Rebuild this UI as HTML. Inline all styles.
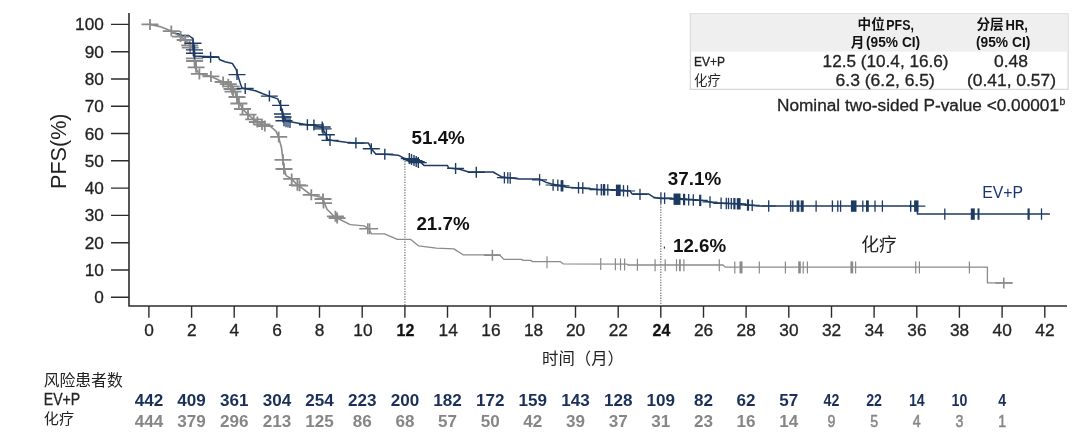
<!DOCTYPE html>
<html lang="zh"><head><meta charset="utf-8"><title>PFS Kaplan-Meier</title>
<style>html,body{margin:0;padding:0;background:#fff}body{width:1080px;height:438px;overflow:hidden}svg{display:block}text{font-family:"Liberation Sans",sans-serif}text.cjk{font-family:"Liberation Sans","Noto Sans CJK SC",sans-serif}.r text,text.r{stroke:#222;stroke-width:.3px;paint-order:stroke}svg{transform:translateZ(0);will-change:transform}</style></head><body>
<svg width="1080" height="438" viewBox="0 0 1080 438">
<rect width="1080" height="438" fill="#fff"/>
<g stroke="#2c2c2c" stroke-width="1.6" fill="none">
<path d="M129 13V306H1067"/>
</g>
<g stroke="#2c2c2c" stroke-width="1.4" fill="none"><path d="
M111 297.2H129M111 270.0H129M111 242.7H129M111 215.4H129M111 188.1H129M111 160.8H129M111 133.5H129M111 106.3H129M111 79.0H129M111 51.7H129M111 24.4H129M148.9 306V317.8M191.6 306V317.8M234.2 306V317.8M276.9 306V317.8M319.5 306V317.8M362.2 306V317.8M404.9 306V317.8M447.5 306V317.8M490.2 306V317.8M532.8 306V317.8M575.5 306V317.8M618.2 306V317.8M660.8 306V317.8M703.5 306V317.8M746.1 306V317.8M788.8 306V317.8M831.5 306V317.8M874.1 306V317.8M916.8 306V317.8M959.4 306V317.8M1002.1 306V317.8M1044.8 306V317.8"/></g>
<g class="r" font-size="17.2" fill="#222" text-anchor="end">
<text x="103.8" y="303.2">0</text>
<text x="103.8" y="276.0">10</text>
<text x="103.8" y="248.7">20</text>
<text x="103.8" y="221.4">30</text>
<text x="103.8" y="194.1">40</text>
<text x="103.8" y="166.8">50</text>
<text x="103.8" y="139.5">60</text>
<text x="103.8" y="112.3">70</text>
<text x="103.8" y="85.0">80</text>
<text x="103.8" y="57.7">90</text>
<text x="103.8" y="30.4">100</text>
</g>
<g class="r" font-size="17.3" fill="#222" text-anchor="middle">
<text x="149.0" y="335.9">0</text>
<text x="191.7" y="335.9">2</text>
<text x="234.3" y="335.9">4</text>
<text x="277.0" y="335.9">6</text>
<text x="319.6" y="335.9">8</text>
<text x="362.9" y="335.9">10</text>
<text x="405.5" y="335.8" font-weight="bold" fill="#111" stroke="none" textLength="17.8" lengthAdjust="spacingAndGlyphs">12</text>
<text x="448.2" y="335.9">14</text>
<text x="490.9" y="335.9">16</text>
<text x="533.5" y="335.9">18</text>
<text x="575.6" y="335.9">20</text>
<text x="618.3" y="335.9">22</text>
<text x="661.4" y="335.8" font-weight="bold" fill="#111" stroke="none" textLength="17.8" lengthAdjust="spacingAndGlyphs">24</text>
<text x="703.6" y="335.9">26</text>
<text x="746.2" y="335.9">28</text>
<text x="788.9" y="335.9">30</text>
<text x="831.6" y="335.9">32</text>
<text x="874.2" y="335.9">34</text>
<text x="916.9" y="335.9">36</text>
<text x="959.5" y="335.9">38</text>
<text x="1002.2" y="335.9">40</text>
<text x="1044.9" y="335.9">42</text>
</g>
<text transform="translate(66.2 151.2) rotate(-90)" font-size="21.6" fill="#222" text-anchor="middle" textLength="75.5" lengthAdjust="spacingAndGlyphs">PFS(%)</text>
<g stroke="#7d7d7d" stroke-width="1.3" stroke-dasharray="1.3 1.3" fill="none">
<path d="M404.9 161V305M660.8 204V305"/></g>
<rect x="663.8" y="246.6" width="1.2" height="2" fill="#333"/>
<path stroke="#1d3a63" fill="none" stroke-width="1.4" d="M172.3 32.9L178.0 33.8L181.8 35.2L188.7 35.4L192.4 38.2L193.3 40.5"/>
<g stroke="#8a8a8a" fill="none" stroke-linejoin="round">
<path stroke-width="1.6" d="M150.0 24.4L160.0 26.6L170.6 30.8L171.3 31.1L176.0 34.0L180.6 36.6L185.2 40.0L190.6 45.0L194.6 52.0L194.8 67.3L199.3 73.9L210.9 76.4L223.1 82.0L228.3 84.2L234.3 88.7L236.1 97.0L239.8 103.5L242.6 109.0L248.1 114.6L253.7 119.3L257.4 122.0L262.0 123.9L264.8 124.8L270.4 126.5L276.0 131.1L278.7 137.6L281.5 147.8L283.0 159.8L284.3 169.0L286.1 175.6L291.7 178.9L296.3 183.9L299.0 185.7L303.7 189.4L311.1 195.0L322.2 197.5L327.0 209.3L334.4 216.7L350.2 224.6"/>
<path stroke-width="1.3" d="M350.2 224.6L364.1 225.9L368.7 228.7L371.5 233.9L384.4 233.9L397.4 239.3L410.4 239.3L418.7 245.9L436.3 248.1L453.9 248.9L463.1 254.8L499.3 254.8L503.9 259.4L521.5 259.4L523.3 260.4L530.7 260.4L532.6 261.7L560.4 261.7L563.1 263.8L627.0 264.2L628.0 265.0L723.0 265.0L725.4 267.2L987.4 267.2L987.4 282.9L1012.9 282.9"/>
<path stroke-width="1.8" d="M141.5 24.4h17.0M150.0 18.9v11.0M162.8 31.1h17.0M171.3 25.6v11.0M172.1 36.6h17.0M180.6 31.1v11.0M176.7 40.0h17.0M185.2 34.5v11.0M181.2 45.4h17.0M189.7 39.9v11.0M181.7 47.6h17.0M190.2 42.1v11.0M186.0 58.4h17.0M194.5 52.9v11.0M186.1 61.0h17.0M194.6 55.5v11.0M187.6 67.3h17.0M196.1 61.8v11.0M190.9 73.9h17.0M199.4 68.4v11.0M202.4 76.4h17.0M210.9 70.9v11.0M214.6 82.0h17.0M223.1 76.5v11.0M219.8 84.2h17.0M228.3 78.7v11.0M222.5 86.4h17.0M231.0 80.9v11.0M223.5 89.0h17.0M232.0 83.5v11.0M224.5 91.6h17.0M233.0 86.1v11.0M228.5 97.0h17.0M237.0 91.5v11.0M230.4 103.5h17.0M238.9 98.0v11.0M234.0 109.0h17.0M242.5 103.5v11.0M239.5 114.6h17.0M248.0 109.1v11.0M245.2 119.3h17.0M253.7 113.8v11.0M248.9 122.0h17.0M257.4 116.5v11.0M253.5 124.5h17.0M262.0 119.0v11.0M256.3 126.0h17.0M264.8 120.5v11.0M270.2 136.9h17.0M278.7 131.4v11.0M274.5 159.8h17.0M283.0 154.3v11.0M275.5 169.0h17.0M284.0 163.5v11.0M283.2 178.9h17.0M291.7 173.4v11.0M288.9 185.2h17.0M297.4 179.7v11.0M291.1 185.7h17.0M299.6 180.2v11.0M302.8 194.8h17.0M311.3 189.3v11.0M314.5 199.0h17.0M323.0 193.5v11.0M315.0 203.1h17.0M323.5 197.6v11.0M326.9 216.3h17.0M335.4 210.8v11.0M328.7 218.1h17.0M337.2 212.6v11.0"/>
<path stroke-width="1.5" d="M359.3 228.7h17.0M367.8 223.2v11.0M361.1 228.7h17.0M369.6 223.2v11.0M483.9 255.3h17.0M492.4 249.8v11.0M995.3 283.0h17.0M1003.8 277.5v11.0"/>
<path stroke-width="1.2" d="M547.0 256.2v12"/>
<path stroke-width="1.2" d="M600.7 258.0v12"/>
<path stroke-width="1.2" d="M615.4 258.2v12"/>
<path stroke-width="1.2" d="M620.5 258.4v12"/>
<path stroke-width="1.2" d="M624.6 258.4v12"/>
<path stroke-width="1.2" d="M637.4 258.7v12"/>
<path stroke-width="1.2" d="M655.1 259.2v12"/>
<path stroke-width="1.2" d="M665.2 259.2v12"/>
<path stroke-width="1.2" d="M676.5 259.2v12"/>
<path stroke-width="1.8" d="M679.9 259.2v12"/>
<path stroke-width="1.2" d="M683.9 259.2v12"/>
<path stroke-width="1.2" d="M719.3 259.2v12"/>
<path stroke-width="1.2" d="M734.8 261.4v12"/>
<path stroke-width="3" d="M741.0 261.4v12"/>
<path stroke-width="1.2" d="M759.3 261.4v12"/>
<path stroke-width="1.2" d="M785.4 261.4v12"/>
<path stroke-width="2.6" d="M799.5 261.4v12"/>
<path stroke-width="1.2" d="M803.2 261.4v12"/>
<path stroke-width="1.2" d="M807.4 261.4v12"/>
<path stroke-width="2.8" d="M851.8 261.4v12"/>
<path stroke-width="1.2" d="M855.6 261.4v12"/>
<path stroke-width="1.2" d="M915.7 261.4v12"/>
<path stroke-width="1.2" d="M919.4 261.4v12"/>
<path stroke-width="1.2" d="M969.4 261.4v12"/>
</g>
<g stroke="#1d3a63" fill="none" stroke-linejoin="round">
<path stroke-width="1.5" d="M193.3 40.5L193.4 56.1L218.7 57.0L219.4 59.5L225.0 61.8L232.4 63.5L236.1 69.4L237.6 74.6L240.6 84.2L242.0 87.9L255.4 90.8L262.8 93.7L269.4 96.1L277.8 98.9L280.6 105.4L282.4 113.7L286.1 121.1L300.0 123.5L307.4 124.7L313.9 125.0L322.2 127.6L326.0 134.8L327.8 139.4L332.4 140.4L346.3 142.2L355.9 143.1L368.5 143.1L371.3 148.7L375.9 154.3L384.8 154.3L398.1 155.2L403.7 158.0L409.0 159.8L419.4 161.0L424.0 165.4L447.6 165.6L448.5 168.0L459.6 169.3L468.9 172.0L493.0 172.0L501.3 176.7L518.9 179.1L539.3 179.1L545.7 182.2L552.2 184.1L567.0 187.2L596.7 189.3L612.0 189.8L630.0 191.0L632.2 194.1L648.9 194.1L653.5 197.2L660.9 198.5L680.0 198.5L702.6 200.4L713.7 202.8L738.0 203.7L750.7 205.2L758.1 205.9L917.4 206.1L917.4 214.1L1049.9 214.1"/>
<path stroke-width="1.2" d="M496.9 177.7h15M500.3 177.9h15M502.7 178.0h15M532.1 179.8h15M545.6 185.0h15M550.3 185.3h15M554.5 185.8h15M571.0 187.8h15M575.3 188.0h15M589.5 189.6h15M593.8 189.7h15M596.5 189.8h15M600.3 189.9h15M610.8 190.3h15M616.0 190.8h15M620.1 191.0h15M632.5 194.4h15M653.4 198.0h15M657.1 198.2h15M669.5 199.2h15M676.6 199.5h15M681.2 199.7h15M685.8 200.0h15M692.7 200.4h15M702.5 202.0h15M713.6 203.3h15M718.8 203.5h15M721.0 203.5h15M723.8 203.6h15M726.9 203.7h15M731.2 203.8h15M740.5 205.0h15M744.7 205.4h15M761.2 206.0h15"/>
<path stroke-width="1.4" d="M184.5 43.3h17.0M193.0 37.8v11.0M185.9 49.9h17.0M194.4 44.4v11.0M186.0 53.2h17.0M194.5 47.7v11.0M202.1 57.2h17.0M210.6 51.7v11.0M228.5 74.6h17.0M237.0 69.1v11.0M236.7 88.5h17.0M245.2 83.0v11.0M260.9 96.1h17.0M269.4 90.6v11.0M272.1 105.4h17.0M280.6 99.9v11.0M273.9 114.0h17.0M282.4 108.5v11.0M274.5 117.0h17.0M283.0 111.5v11.0M275.5 120.7h17.0M284.0 115.2v11.0M298.9 124.8h17.0M307.4 119.3v11.0M305.4 125.0h17.0M313.9 119.5v11.0M313.7 127.0h17.0M322.2 121.5v11.0M314.6 128.9h17.0M323.1 123.4v11.0M317.9 134.8h17.0M326.4 129.3v11.0M321.5 140.4h17.0M330.0 134.9v11.0M347.4 143.1h17.0M355.9 137.6v11.0M400.8 158.6h17.0M409.3 153.1v11.0M403.0 159.6h17.0M411.5 154.1v11.0M405.5 160.6h17.0M414.0 155.1v11.0M407.7 161.6h17.0M416.2 156.1v11.0M409.8 162.6h17.0M418.3 157.1v11.0M362.8 148.7h17.0M371.3 143.2v11.0M376.3 154.3h17.0M384.8 148.8v11.0M447.1 168.4h17.0M455.6 162.9v11.0M467.8 172.3h17.0M476.3 166.8v11.0M909 206.1H925.4"/>
<path stroke-width="1.3" d="M286.0 115.8v11.4"/>
<path stroke-width="1.3" d="M288.0 116.1v11.4"/>
<path stroke-width="1.3" d="M290.0 116.5v11.4"/>
<path stroke-width="1.3" d="M504.4 172.0v11.4"/>
<path stroke-width="1.3" d="M507.8 172.2v11.4"/>
<path stroke-width="1.3" d="M510.2 172.3v11.4"/>
<path stroke-width="1.3" d="M539.6 174.1v11.4"/>
<path stroke-width="1.3" d="M553.1 179.3v11.4"/>
<path stroke-width="1.3" d="M557.8 179.6v11.4"/>
<path stroke-width="2.8" d="M562.0 180.1v11.4"/>
<path stroke-width="1.3" d="M578.5 182.1v11.4"/>
<path stroke-width="1.3" d="M582.8 182.3v11.4"/>
<path stroke-width="1.3" d="M597.0 183.9v11.4"/>
<path stroke-width="1.3" d="M601.3 184.0v11.4"/>
<path stroke-width="2.5" d="M604.0 184.1v11.4"/>
<path stroke-width="1.3" d="M607.8 184.2v11.4"/>
<path stroke-width="4.8" d="M618.3 184.6v11.4"/>
<path stroke-width="1.3" d="M623.5 185.1v11.4"/>
<path stroke-width="1.3" d="M627.6 185.3v11.4"/>
<path stroke-width="1.3" d="M640.0 188.7v11.4"/>
<path stroke-width="1.3" d="M660.9 192.3v11.4"/>
<path stroke-width="1.3" d="M664.6 192.5v11.4"/>
<path stroke-width="7" d="M677.0 193.5v11.4"/>
<path stroke-width="2.2" d="M684.1 193.8v11.4"/>
<path stroke-width="1.3" d="M688.7 194.0v11.4"/>
<path stroke-width="1.3" d="M693.3 194.3v11.4"/>
<path stroke-width="2.2" d="M700.2 194.7v11.4"/>
<path stroke-width="1.3" d="M710.0 196.3v11.4"/>
<path stroke-width="1.3" d="M721.1 197.6v11.4"/>
<path stroke-width="1.3" d="M726.3 197.8v11.4"/>
<path stroke-width="1.3" d="M728.5 197.8v11.4"/>
<path stroke-width="1.3" d="M731.3 197.9v11.4"/>
<path stroke-width="2.2" d="M734.4 198.0v11.4"/>
<path stroke-width="3.8" d="M738.7 198.1v11.4"/>
<path stroke-width="2.2" d="M748.0 199.3v11.4"/>
<path stroke-width="1.3" d="M752.2 199.7v11.4"/>
<path stroke-width="1.3" d="M768.7 200.3v11.4"/>
<path stroke-width="1.5" d="M790.7 200.4v11.4"/>
<path stroke-width="1.5" d="M792.8 200.4v11.4"/>
<path stroke-width="2.8" d="M798.0 200.4v11.4"/>
<path stroke-width="3" d="M802.2 200.4v11.4"/>
<path stroke-width="1.3" d="M816.1 200.4v11.4"/>
<path stroke-width="1.3" d="M832.4 200.4v11.4"/>
<path stroke-width="1.3" d="M837.8 200.4v11.4"/>
<path stroke-width="1.3" d="M840.6 200.4v11.4"/>
<path stroke-width="5.6" d="M853.7 200.4v11.4"/>
<path stroke-width="1.3" d="M862.8 200.4v11.4"/>
<path stroke-width="2.8" d="M867.4 200.4v11.4"/>
<path stroke-width="1.3" d="M875.0 200.4v11.4"/>
<path stroke-width="1.3" d="M882.4 200.4v11.4"/>
<path stroke-width="1.4" d="M910.7 200.4v11.4"/>
<path stroke-width="4.4" d="M916.3 200.4v11.4"/>
<path stroke-width="1.3" d="M944.8 208.4v11.4"/>
<path stroke-width="4" d="M972.8 208.4v11.4"/>
<path stroke-width="2" d="M978.5 208.4v11.4"/>
<path stroke-width="2.2" d="M1028.6 208.4v11.4"/>
<path stroke-width="1.3" d="M1041.5 208.4v11.4"/>
</g>
<text x="411.6" y="144.4" font-size="18.4" font-weight="bold" fill="#111" textLength="53.2" lengthAdjust="spacingAndGlyphs" text-anchor="start">51.4%</text>
<text x="416.4" y="230.2" font-size="18.4" font-weight="bold" fill="#111" textLength="53.2" lengthAdjust="spacingAndGlyphs" text-anchor="start">21.7%</text>
<text x="667.8" y="184.6" font-size="18.4" font-weight="bold" fill="#111" textLength="53.5" lengthAdjust="spacingAndGlyphs" text-anchor="start">37.1%</text>
<text x="673.0" y="252.4" font-size="18.4" font-weight="bold" fill="#111" textLength="53.2" lengthAdjust="spacingAndGlyphs" text-anchor="start">12.6%</text>
<text x="982.2" y="198.3" font-size="16.4" fill="#1c3572" textLength="41" lengthAdjust="spacingAndGlyphs">EV+P</text>
<text class="cjk" x="861.2" y="250.9" font-size="17.8" fill="#222" textLength="35.6" lengthAdjust="spacingAndGlyphs">化疗</text>
<text class="cjk" x="542" y="364.2" font-size="16.4" fill="#222" textLength="82" lengthAdjust="spacing">时间（月）</text>
<rect x="690.3" y="13.9" width="377.8" height="75.4" fill="#fff" stroke="#cdcdcd" stroke-width="1"/>
<rect x="690.8" y="14.4" width="376.8" height="37.2" fill="#efefef"/>
<text class="cjk" x="857.6" y="29.3" font-size="13.6" font-weight="bold" fill="#111" textLength="27.2" lengthAdjust="spacingAndGlyphs">中位</text>
<text x="886.3" y="29.8" font-size="14.5" font-weight="bold" fill="#111" textLength="27.6" lengthAdjust="spacingAndGlyphs">PFS,</text>
<text class="cjk" x="850.8" y="46.8" font-size="13.6" font-weight="bold" fill="#111">月</text>
<text x="866" y="46.6" font-size="14.5" font-weight="bold" fill="#111" textLength="54.2" lengthAdjust="spacingAndGlyphs">(95% CI)</text>
<text class="cjk" x="976.4" y="29.3" font-size="13.6" font-weight="bold" fill="#111" textLength="27.2" lengthAdjust="spacingAndGlyphs">分层</text>
<text x="1005.6" y="29.8" font-size="14.5" font-weight="bold" fill="#111" textLength="22.4" lengthAdjust="spacingAndGlyphs">HR,</text>
<text x="975.9" y="46.6" font-size="14.5" font-weight="bold" fill="#111" textLength="54.5" lengthAdjust="spacingAndGlyphs">(95% CI)</text>
<text class="r" x="693.9" y="65.8" font-size="13.2" fill="#222" textLength="31" lengthAdjust="spacingAndGlyphs">EV+P</text>
<text class="cjk" x="694" y="84.9" font-size="13.4" fill="#222" textLength="26.8" lengthAdjust="spacingAndGlyphs">化疗</text>
<g class="r" font-size="16.5" fill="#222" lengthAdjust="spacingAndGlyphs">
<text x="822.6" y="66.9" textLength="126" lengthAdjust="spacingAndGlyphs">12.5 (10.4, 16.6)</text>
<text x="835.6" y="85.7" textLength="99.2" lengthAdjust="spacingAndGlyphs">6.3 (6.2, 6.5)</text>
<text x="994" y="66.9" textLength="34" lengthAdjust="spacingAndGlyphs">0.48</text>
<text x="967" y="85.7" textLength="89" lengthAdjust="spacingAndGlyphs">(0.41, 0.57)</text>
</g>
<text class="r" x="777" y="110.6" font-size="17.3" fill="#222" textLength="282" lengthAdjust="spacingAndGlyphs">Nominal two-sided P-value &lt;0.00001</text>
<text class="r" x="1059.6" y="105" font-size="10.5" fill="#222">b</text>
<text class="cjk" x="43.7" y="385.8" font-size="15.8" fill="#222" textLength="79" lengthAdjust="spacingAndGlyphs">风险患者数</text>
<text class="r" x="43.7" y="404.9" font-size="16.2" fill="#222" textLength="36.6" lengthAdjust="spacingAndGlyphs">EV+P</text>
<text class="cjk" x="43.8" y="423.9" font-size="15.1" fill="#222" textLength="30.2" lengthAdjust="spacingAndGlyphs">化疗</text>
<g font-size="17" font-weight="bold" text-anchor="middle">
<text x="148.9" y="405.9" fill="#1b3058" textLength="28.5" lengthAdjust="spacingAndGlyphs">442</text>
<text x="148.9" y="427" fill="#868686" textLength="28.5" lengthAdjust="spacingAndGlyphs">444</text>
<text x="191.6" y="405.9" fill="#1b3058" textLength="28.5" lengthAdjust="spacingAndGlyphs">409</text>
<text x="191.6" y="427" fill="#868686" textLength="28.5" lengthAdjust="spacingAndGlyphs">379</text>
<text x="234.2" y="405.9" fill="#1b3058" textLength="28.5" lengthAdjust="spacingAndGlyphs">361</text>
<text x="234.2" y="427" fill="#868686" textLength="28.5" lengthAdjust="spacingAndGlyphs">296</text>
<text x="276.9" y="405.9" fill="#1b3058" textLength="28.5" lengthAdjust="spacingAndGlyphs">304</text>
<text x="276.9" y="427" fill="#868686" textLength="28.5" lengthAdjust="spacingAndGlyphs">213</text>
<text x="319.5" y="405.9" fill="#1b3058" textLength="28.5" lengthAdjust="spacingAndGlyphs">254</text>
<text x="319.5" y="427" fill="#868686" textLength="28.5" lengthAdjust="spacingAndGlyphs">125</text>
<text x="362.2" y="405.9" fill="#1b3058" textLength="28.5" lengthAdjust="spacingAndGlyphs">223</text>
<text x="362.2" y="427" fill="#868686" textLength="19.0" lengthAdjust="spacingAndGlyphs">86</text>
<text x="404.9" y="405.9" fill="#1b3058" textLength="28.5" lengthAdjust="spacingAndGlyphs">200</text>
<text x="404.9" y="427" fill="#868686" textLength="19.0" lengthAdjust="spacingAndGlyphs">68</text>
<text x="447.5" y="405.9" fill="#1b3058" textLength="28.5" lengthAdjust="spacingAndGlyphs">182</text>
<text x="447.5" y="427" fill="#868686" textLength="19.0" lengthAdjust="spacingAndGlyphs">57</text>
<text x="490.2" y="405.9" fill="#1b3058" textLength="28.5" lengthAdjust="spacingAndGlyphs">172</text>
<text x="490.2" y="427" fill="#868686" textLength="19.0" lengthAdjust="spacingAndGlyphs">50</text>
<text x="532.8" y="405.9" fill="#1b3058" textLength="28.5" lengthAdjust="spacingAndGlyphs">159</text>
<text x="532.8" y="427" fill="#868686" textLength="19.0" lengthAdjust="spacingAndGlyphs">42</text>
<text x="575.5" y="405.9" fill="#1b3058" textLength="28.5" lengthAdjust="spacingAndGlyphs">143</text>
<text x="575.5" y="427" fill="#868686" textLength="19.0" lengthAdjust="spacingAndGlyphs">39</text>
<text x="618.2" y="405.9" fill="#1b3058" textLength="28.5" lengthAdjust="spacingAndGlyphs">128</text>
<text x="618.2" y="427" fill="#868686" textLength="19.0" lengthAdjust="spacingAndGlyphs">37</text>
<text x="660.8" y="405.9" fill="#1b3058" textLength="28.5" lengthAdjust="spacingAndGlyphs">109</text>
<text x="660.8" y="427" fill="#868686" textLength="19.0" lengthAdjust="spacingAndGlyphs">31</text>
<text x="703.5" y="405.9" fill="#1b3058" textLength="19.0" lengthAdjust="spacingAndGlyphs">82</text>
<text x="703.5" y="427" fill="#868686" textLength="19.0" lengthAdjust="spacingAndGlyphs">23</text>
<text x="746.1" y="405.9" fill="#1b3058" textLength="19.0" lengthAdjust="spacingAndGlyphs">62</text>
<text x="746.1" y="427" fill="#868686" textLength="19.0" lengthAdjust="spacingAndGlyphs">16</text>
<text x="788.8" y="405.9" fill="#1b3058" textLength="19.0" lengthAdjust="spacingAndGlyphs">57</text>
<text x="788.8" y="427" fill="#868686" textLength="19.0" lengthAdjust="spacingAndGlyphs">14</text>
<text x="831.5" y="405.9" fill="#1b3058" textLength="15.8" lengthAdjust="spacingAndGlyphs">42</text>
<text x="831.5" y="427" fill="#868686" textLength="7.9" lengthAdjust="spacingAndGlyphs" font-weight="normal" stroke="#868686" stroke-width=".55">9</text>
<text x="874.1" y="405.9" fill="#1b3058" textLength="15.8" lengthAdjust="spacingAndGlyphs">22</text>
<text x="874.1" y="427" fill="#868686" textLength="7.9" lengthAdjust="spacingAndGlyphs" font-weight="normal" stroke="#868686" stroke-width=".55">5</text>
<text x="916.8" y="405.9" fill="#1b3058" textLength="15.8" lengthAdjust="spacingAndGlyphs">14</text>
<text x="916.8" y="427" fill="#868686" textLength="7.9" lengthAdjust="spacingAndGlyphs" font-weight="normal" stroke="#868686" stroke-width=".55">4</text>
<text x="959.4" y="405.9" fill="#1b3058" textLength="15.8" lengthAdjust="spacingAndGlyphs">10</text>
<text x="959.4" y="427" fill="#868686" textLength="7.9" lengthAdjust="spacingAndGlyphs" font-weight="normal" stroke="#868686" stroke-width=".55">3</text>
<text x="1002.1" y="405.9" fill="#1b3058" textLength="7.9" lengthAdjust="spacingAndGlyphs">4</text>
<text x="1002.1" y="427" fill="#868686" textLength="7.9" lengthAdjust="spacingAndGlyphs" font-weight="normal" stroke="#868686" stroke-width=".55">1</text>
</g>
</svg></body></html>
